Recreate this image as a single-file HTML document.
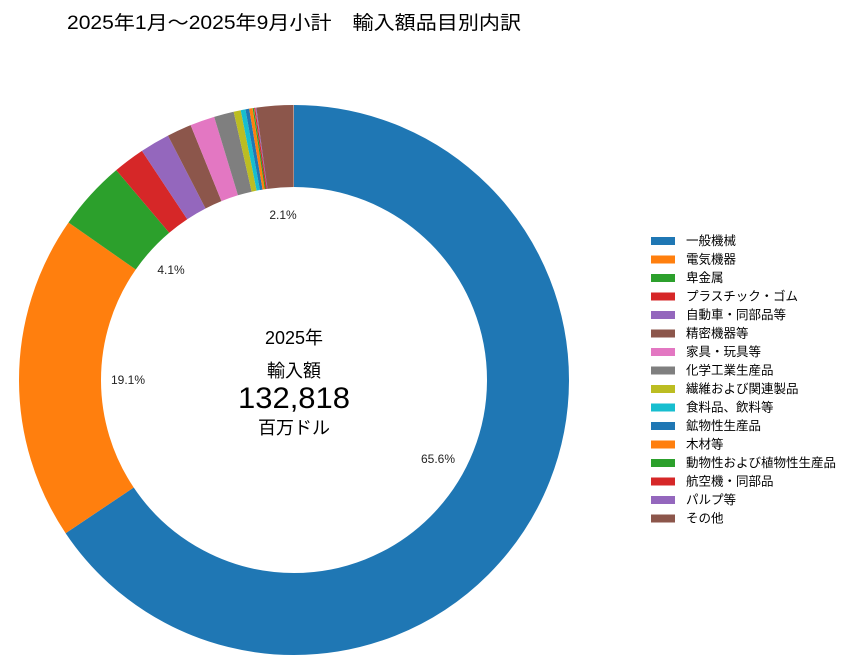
<!DOCTYPE html>
<html><head><meta charset="utf-8"><style>
body{margin:0;background:#fff;width:846px;height:667px;overflow:hidden;font-family:"Liberation Sans","Noto Sans CJK JP",sans-serif;}
</style></head><body>
<svg width="846" height="667" xmlns="http://www.w3.org/2000/svg" style="font-family:'Liberation Sans','Noto Sans CJK JP',sans-serif">
<text x="67" y="29" font-size="19" fill="#000" textLength="454" lengthAdjust="spacingAndGlyphs">2025年1月～2025年9月小計　輸入額品目別内訳</text>
<g transform="rotate(-90 294 380)" fill="none" stroke-width="82">
<circle cx="294" cy="380" r="234" pathLength="360" stroke="#1f77b4" stroke-dasharray="236.2 400" stroke-dashoffset="0"/>
<circle cx="294" cy="380" r="234" pathLength="360" stroke="#ff7f0e" stroke-dasharray="68.8 400" stroke-dashoffset="-236.2"/>
<circle cx="294" cy="380" r="234" pathLength="360" stroke="#2ca02c" stroke-dasharray="14.8 400" stroke-dashoffset="-305"/>
<circle cx="294" cy="380" r="234" pathLength="360" stroke="#d62728" stroke-dasharray="6.7 400" stroke-dashoffset="-319.8"/>
<circle cx="294" cy="380" r="234" pathLength="360" stroke="#9467bd" stroke-dasharray="6.3 400" stroke-dashoffset="-326.5"/>
<circle cx="294" cy="380" r="234" pathLength="360" stroke="#8c564b" stroke-dasharray="5.2 400" stroke-dashoffset="-332.8"/>
<circle cx="294" cy="380" r="234" pathLength="360" stroke="#e377c2" stroke-dasharray="5.2 400" stroke-dashoffset="-338"/>
<circle cx="294" cy="380" r="234" pathLength="360" stroke="#7f7f7f" stroke-dasharray="4.2 400" stroke-dashoffset="-343.2"/>
<circle cx="294" cy="380" r="234" pathLength="360" stroke="#bcbd22" stroke-dasharray="1.5 400" stroke-dashoffset="-347.4"/>
<circle cx="294" cy="380" r="234" pathLength="360" stroke="#17becf" stroke-dasharray="1.0 400" stroke-dashoffset="-348.9"/>
<circle cx="294" cy="380" r="234" pathLength="360" stroke="#1f77b4" stroke-dasharray="0.8 400" stroke-dashoffset="-349.9"/>
<circle cx="294" cy="380" r="234" pathLength="360" stroke="#ff7f0e" stroke-dasharray="0.7 400" stroke-dashoffset="-350.7"/>
<circle cx="294" cy="380" r="234" pathLength="360" stroke="#2ca02c" stroke-dasharray="0.3 400" stroke-dashoffset="-351.4"/>
<circle cx="294" cy="380" r="234" pathLength="360" stroke="#d62728" stroke-dasharray="0.3 400" stroke-dashoffset="-351.7"/>
<circle cx="294" cy="380" r="234" pathLength="360" stroke="#9467bd" stroke-dasharray="0.2 400" stroke-dashoffset="-352"/>
<circle cx="294" cy="380" r="234" pathLength="360" stroke="#8c564b" stroke-dasharray="7.8 400" stroke-dashoffset="-352.2"/>
</g>
<g font-size="12" fill="#222" text-anchor="middle">
<text x="438" y="463">65.6%</text>
<text x="128" y="384">19.1%</text>
<text x="171" y="274">4.1%</text>
<text x="283" y="219">2.1%</text>
</g>
<g text-anchor="middle" fill="#000">
<text x="294" y="344" font-size="18">2025年</text>
<text x="294" y="377" font-size="18">輸入額</text>
<text x="294" y="408" font-size="30" textLength="112" lengthAdjust="spacingAndGlyphs">132,818</text>
<text x="294" y="434" font-size="18">百万ドル</text>
</g>
<g font-size="12.5" fill="#000">
<rect x="651" y="237" width="24" height="8" fill="#1f77b4"/><text x="686" y="245">一般機械</text>
<rect x="651" y="255.5" width="24" height="8" fill="#ff7f0e"/><text x="686" y="263.5">電気機器</text>
<rect x="651" y="274" width="24" height="8" fill="#2ca02c"/><text x="686" y="282">卑金属</text>
<rect x="651" y="292.5" width="24" height="8" fill="#d62728"/><text x="686" y="300.5">プラスチック・ゴム</text>
<rect x="651" y="311" width="24" height="8" fill="#9467bd"/><text x="686" y="319">自動車・同部品等</text>
<rect x="651" y="329.5" width="24" height="8" fill="#8c564b"/><text x="686" y="337.5">精密機器等</text>
<rect x="651" y="348" width="24" height="8" fill="#e377c2"/><text x="686" y="356">家具・玩具等</text>
<rect x="651" y="366.5" width="24" height="8" fill="#7f7f7f"/><text x="686" y="374.5">化学工業生産品</text>
<rect x="651" y="385" width="24" height="8" fill="#bcbd22"/><text x="686" y="393">繊維および関連製品</text>
<rect x="651" y="403.5" width="24" height="8" fill="#17becf"/><text x="686" y="411.5">食料品、飲料等</text>
<rect x="651" y="422" width="24" height="8" fill="#1f77b4"/><text x="686" y="430">鉱物性生産品</text>
<rect x="651" y="440.5" width="24" height="8" fill="#ff7f0e"/><text x="686" y="448.5">木材等</text>
<rect x="651" y="459" width="24" height="8" fill="#2ca02c"/><text x="686" y="467">動物性および植物性生産品</text>
<rect x="651" y="477.5" width="24" height="8" fill="#d62728"/><text x="686" y="485.5">航空機・同部品</text>
<rect x="651" y="496" width="24" height="8" fill="#9467bd"/><text x="686" y="504">パルプ等</text>
<rect x="651" y="514.5" width="24" height="8" fill="#8c564b"/><text x="686" y="522.5">その他</text>
</g>
</svg>
</body></html>
